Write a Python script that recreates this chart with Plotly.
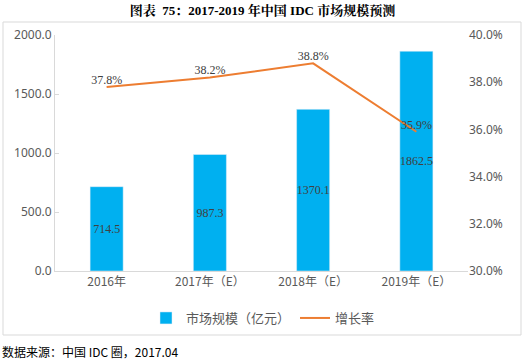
import plotly.graph_objects as go

categories = ["2016年", "2017年（E）", "2018年（E）", "2019年（E）"]
market_size = [714.5, 987.3, 1370.1, 1862.5]
growth_rate = [37.8, 38.2, 38.8, 35.9]

W, H = 525, 361
L, R, T, B = 55, 468, 35, 271  # plot area pixel bounds
pw, ph = R - L, B - T

def px(x):
    return (x - L) / pw

def py(y):
    return (B - y) / ph

fig = go.Figure()
fig.add_trace(go.Bar(
    x=categories, y=market_size, name="市场规模（亿元）",
    marker=dict(color="#00B0F0"), width=0.32,
    text=[f"{v:.1f}" for v in market_size], textposition="inside", textangle=0,
    insidetextanchor="middle", constraintext="none",
    textfont=dict(family="Liberation Serif", size=12, color="#404040"),
))
fig.add_trace(go.Scatter(
    x=categories, y=growth_rate, name="增长率", yaxis="y2",
    mode="lines+text", line=dict(color="#ED7D31", width=2),
    text=[f"{v:.1f}%" for v in growth_rate], textposition="top center",
    textfont=dict(family="Liberation Serif", size=12, color="#404040"),
))

fig.update_layout(
    width=W, height=H,
    margin=dict(l=L, r=W - R, t=T, b=H - B),
    paper_bgcolor="white", plot_bgcolor="white",
    font=dict(family="Noto Sans, Noto Sans CJK SC", size=12, color="#595959"),
    title=dict(text="<b>图表  75：2017-2019 年中国 IDC 市场规模预测</b>",
               font=dict(family="Liberation Serif, Noto Serif CJK SC, Noto Sans CJK SC", size=13, color="black"),
               x=0.5, xanchor="center", y=1 - 10 / H, yanchor="middle", yref="container"),
    xaxis=dict(showline=True, linecolor="#d9d9d9", showgrid=False, ticks="", automargin=False,
               tickfont=dict(family="Noto Sans CJK SC", size=12, color="#595959")),
    yaxis=dict(range=[0, 2000], dtick=500, tickformat=".1f", showgrid=False, automargin=False,
               showline=True, linecolor="#d9d9d9", ticks="inside", ticklen=4, tickcolor="#d9d9d9",
               tickfont=dict(family="Noto Sans", size=12, color="#595959")),
    yaxis2=dict(range=[30, 40], dtick=2, tickformat=".1f", ticksuffix="%", automargin=False,
                overlaying="y", side="right", showgrid=False, showline=False,
                tickfont=dict(family="Noto Sans", size=12, color="#595959")),
    showlegend=True,
    legend=dict(orientation="h", x=px(263), xanchor="center", y=py(318), yanchor="middle",
                font=dict(family="Noto Sans CJK SC", size=13, color="#595959"),
                itemwidth=30),
    bargap=0.68,
)

fig.add_shape(type="rect", xref="paper", yref="paper",
              x0=px(3), x1=px(521), y0=py(335), y1=py(22),
              line=dict(color="#d9d9d9", width=1), fillcolor="rgba(0,0,0,0)", layer="below")

fig.add_annotation(text="数据来源：中国 IDC 圈，2017.04", xref="paper", yref="paper",
                   x=px(0), y=py(351), xanchor="left", yanchor="middle", showarrow=False,
                   font=dict(family="Noto Sans CJK SC", size=12, color="black"))

fig.write_html("out.html", config={"displayModeBar": False},
               post_script="document.body.style.margin='0';document.body.style.padding='0';")
